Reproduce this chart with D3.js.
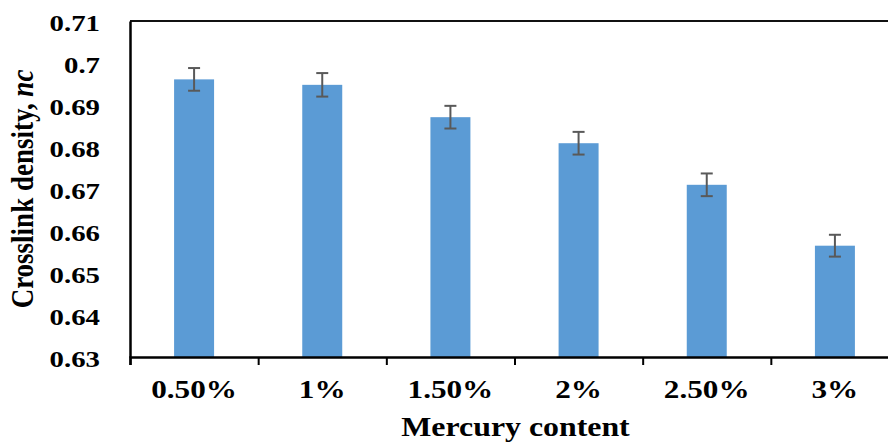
<!DOCTYPE html>
<html>
<head>
<meta charset="utf-8">
<script src="https://cdn.jsdelivr.net/npm/d3@7"></script>
<style>
  html, body { margin: 0; padding: 0; background: #fff; }
  svg { display: block; }
  text { font-family: "Liberation Serif", "Times New Roman", serif; font-weight: bold; fill: #000; }
</style>
</head>
<body>
<svg id="chart" width="888" height="442"></svg>
<script>
const categories = ["0.50%", "1%", "1.50%", "2%", "2.50%", "3%"];
const values = [0.6961, 0.6948, 0.6871, 0.6809, 0.6710, 0.6565];
const errors = [0.0027, 0.0028, 0.0027, 0.0027, 0.0027, 0.0026];
const yTicks = [0.63, 0.64, 0.65, 0.66, 0.67, 0.68, 0.69, 0.70, 0.71];
const yTickLabels = ["0.63", "0.64", "0.65", "0.66", "0.67", "0.68", "0.69", "0.7", "0.71"];
const xTitle = "Mercury content";
const yTitle = "Crosslink density, ";
const yTitleItalic = "nc";

const svg = d3.select("#chart");
const mLeft = 130, mRight = 899, mTop = 21, mBottom = 357;
const stretch = 1.2;
const serif = '"Liberation Serif", "Times New Roman", serif';

const x = d3.scaleBand().domain(categories).range([mLeft, mRight]).paddingInner(0.688).paddingOuter(0.344);
const xEdges = d3.scaleLinear().domain([0, categories.length]).range([mLeft, mRight]);
const y = d3.scaleLinear().domain([0.63, 0.71]).range([mBottom, mTop]);

// bars
svg.append("g").selectAll("rect").data(values).join("rect")
  .attr("x", (d, i) => x(categories[i]))
  .attr("y", d => y(d))
  .attr("width", x.bandwidth())
  .attr("height", d => y(0.63) - y(d))
  .attr("fill", "#5B9BD5");

// error bars
const eg = svg.append("g").attr("stroke", "#595959").attr("stroke-width", 2);
values.forEach((v, i) => {
  const cx = x(categories[i]) + x.bandwidth() / 2;
  eg.append("line").attr("x1", cx).attr("x2", cx).attr("y1", y(v + errors[i])).attr("y2", y(v - errors[i]));
  eg.append("line").attr("x1", cx - 6).attr("x2", cx + 6).attr("y1", y(v + errors[i])).attr("y2", y(v + errors[i]));
  eg.append("line").attr("x1", cx - 6).attr("x2", cx + 6).attr("y1", y(v - errors[i])).attr("y2", y(v - errors[i]));
});

// top border
svg.append("line").attr("x1", mLeft).attr("x2", 888).attr("y1", y(0.71)).attr("y2", y(0.71))
  .attr("stroke", "#111").attr("stroke-width", 2);

// y axis
const yAxis = svg.append("g").attr("transform", `translate(${mLeft},0)`)
  .call(d3.axisLeft(y).tickValues(yTicks).tickSize(0).tickPadding(0)
    .tickFormat((d, i) => yTickLabels[i]))
  .attr("font-family", serif).attr("font-weight", "bold");
yAxis.select(".domain").attr("stroke", "#000").attr("stroke-width", 2.5);
yAxis.selectAll("text")
  .attr("x", 0).attr("dy", null).attr("y", 9.5)
  .attr("transform", `translate(-30,0) scale(${stretch},1)`)
  .style("font-size", "24px").style("font-family", serif).style("font-weight", "bold")
  .attr("fill", "#000");

// x axis boundary ticks
const xTickAxis = svg.append("g").attr("transform", `translate(0,${mBottom})`)
  .call(d3.axisBottom(xEdges).tickValues(d3.range(categories.length + 1)).tickSize(8).tickFormat(""));
xTickAxis.select(".domain").attr("stroke", "#000").attr("stroke-width", 2.5);
xTickAxis.selectAll(".tick line").attr("stroke", "#000").attr("stroke-width", 2);

// x labels
const xLab = svg.append("g").attr("transform", `translate(0,${mBottom})`)
  .call(d3.axisBottom(x).tickSize(0).tickPadding(0))
  .attr("font-family", serif).attr("font-weight", "bold");
xLab.select(".domain").remove();
xLab.selectAll("text")
  .attr("dy", null).attr("y", 41)
  .attr("transform", `scale(${stretch},1)`)
  .style("font-size", "26px").style("font-family", serif).style("font-weight", "bold")
  .attr("fill", "#000");

// axis titles
svg.append("text")
  .attr("transform", `translate(${(mLeft + mRight) / 2 + 1},436) scale(1.18,1)`)
  .attr("text-anchor", "middle")
  .style("font-size", "27px")
  .text(xTitle);

const yt = svg.append("text")
  .attr("transform", `translate(33,189) scale(${stretch},1) rotate(-90)`)
  .attr("text-anchor", "middle")
  .style("font-size", "27px");
yt.append("tspan").text(yTitle);
yt.append("tspan").style("font-style", "italic").style("font-weight", "bold").text(yTitleItalic);
</script>
</body>
</html>
